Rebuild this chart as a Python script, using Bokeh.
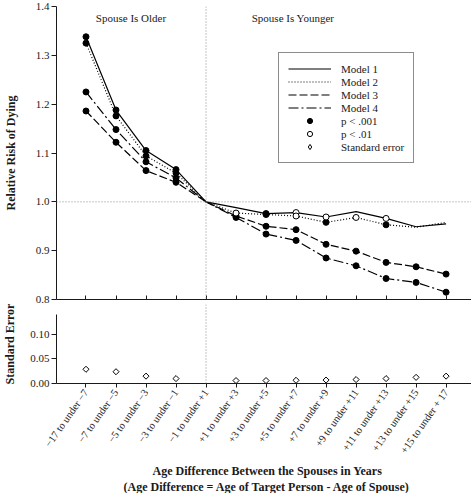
import math
from bokeh.plotting import figure
from bokeh.models import (Range1d, FixedTicker, NumeralTickFormatter, Span,
                          Legend, LegendItem, Title)
from bokeh.layouts import column
from bokeh.core.properties import value
from bokeh.embed import file_html
from bokeh.resources import INLINE

# ---------------- data ----------------
categories = ["\u221217 to under \u22127", "\u22127 to under \u22125", "\u22125 to under \u22123",
              "\u22123 to under \u22121", "\u22121 to under +1", "+1 to under +3",
              "+3 to under +5", "+5 to under +7", "+7 to under +9", "+9 to under +11",
              "+11 to under +13", "+13 to under +15", "+15 to under + 17"]

model1 = [1.338, 1.188, 1.105, 1.066, 1.000, 0.988, 0.976, 0.978, 0.969, 0.980, 0.966, 0.949, 0.955]
model2 = [1.325, 1.176, 1.094, 1.059, 1.000, 0.977, 0.974, 0.971, 0.958, 0.968, 0.953, 0.948, 0.958]
model3 = [1.186, 1.122, 1.064, 1.040, 1.000, 0.971, 0.950, 0.943, 0.913, 0.899, 0.876, 0.867, 0.852]
model4 = [1.225, 1.148, 1.082, 1.049, 1.000, 0.968, 0.934, 0.921, 0.885, 0.869, 0.843, 0.835, 0.815]

# significance: "f" = p < .001 (filled), "o" = p < .01 (open), "" = none
sig1 = ["f", "f", "f", "f", "", "", "f", "o", "o", "", "o", "", ""]
sig2 = ["f", "f", "f", "f", "", "o", "f", "o", "f", "o", "f", "", ""]
sig3 = ["f", "f", "f", "f", "", "f", "f", "f", "f", "f", "f", "f", "f"]
sig4 = ["f", "f", "f", "f", "", "f", "f", "f", "f", "f", "f", "f", "f"]

std_error = [0.029, 0.024, 0.015, 0.010, float("nan"), 0.006, 0.006, 0.0065, 0.007,
             0.008, 0.010, 0.0125, 0.015]

model_names = ["Model 1", "Model 2", "Model 3", "Model 4"]
sig_labels = ["p < .001", "p < .01", "Standard error"]
rr_ticks = [0.8, 0.9, 1.0, 1.1, 1.2, 1.3, 1.4]
se_ticks = [0.0, 0.05, 0.10]
region_labels = ["Spouse Is Older", "Spouse Is Younger"]
region_x = [1.5, 6.9]
region_y = [1.377, 1.377]
reference_category = "\u22121 to under +1"

# ---------------- styles ----------------
FONT = "Liberation Serif"
INK = "#1a1a1a"
dashes = ["solid", "1 2", "8 3", "10 3 2 3"]

xs = list(range(len(categories)))
ref_x = categories.index(reference_category)


def style_axes(p):
    for ax in p.axis:
        ax.axis_line_color = INK
        ax.major_tick_line_color = INK
        ax.minor_tick_line_color = None
        ax.major_label_text_font = FONT
        ax.major_label_text_font_size = "11px"
        ax.major_label_text_color = INK
        ax.axis_label_text_font = FONT
        ax.axis_label_text_font_style = "bold"
        ax.axis_label_text_font_size = "12px"
        ax.axis_label_text_color = INK


# ---------------- top panel ----------------
top = figure(frame_width=419, frame_height=293, min_border_left=51, min_border_right=0,
             min_border_top=6, min_border_bottom=5,
             x_range=Range1d(-0.983, 12.98), y_range=Range1d(0.8, 1.4),
             output_backend="svg", toolbar_location=None)
top.grid.visible = False
top.outline_line_color = None
style_axes(top)

ya = top.yaxis[0]
ya.ticker = FixedTicker(ticks=rr_ticks)
ya.formatter = NumeralTickFormatter(format="0.0")
ya.axis_label = "Relative Risk of Dying"
ya.axis_label_standoff = 15
ya.major_tick_out = 5
ya.major_tick_in = 0
ya.major_label_standoff = 2

xa = top.xaxis[0]
xa.ticker = FixedTicker(ticks=xs)
xa.major_label_overrides = {i: "" for i in xs}
xa.major_label_standoff = 0
xa.major_tick_in = 4
xa.major_tick_out = 0

top.add_layout(Span(location=1.0, dimension="width", line_color="#8c8c8c",
                    line_dash="1 2", line_width=1))
top.add_layout(Span(location=ref_x, dimension="height", line_color="#8c8c8c",
                    line_dash="1 2", line_width=1))

models = [model1, model2, model3, model4]
sigs = [sig1, sig2, sig3, sig4]
line_renderers = []
for vals, dash in zip(models, dashes):
    r = top.line(xs, vals, line_color="black", line_width=1.2, line_dash=dash)
    line_renderers.append(r)

fx, fy, ox, oy = [], [], [], []
for vals, sg in zip(models, sigs):
    for i, (v, s) in enumerate(zip(vals, sg)):
        if s == "f":
            fx.append(i); fy.append(v)
        elif s == "o":
            ox.append(i); oy.append(v)

filled_r = top.scatter(fx, fy, marker="circle", size=6, fill_color="black", line_color="black")
open_r = top.scatter(ox, oy, marker="circle", size=6, fill_color="white", line_color="black",
                     line_width=1)
# standard-error values lie far below this panel's range: used only for the legend swatch
se_swatch = top.scatter(xs, std_error, marker="diamond", size=6,
                        fill_color="white", line_color="black", line_width=1)

top.text(x=region_x, y=region_y, text=region_labels, text_font=value(FONT),
         text_font_size="11px", text_align="center", text_baseline="middle", text_color=INK)

items = [LegendItem(label=n, renderers=[r]) for n, r in zip(model_names, line_renderers)]
items += [LegendItem(label=sig_labels[0], renderers=[filled_r]),
          LegendItem(label=sig_labels[1], renderers=[open_r]),
          LegendItem(label=sig_labels[2], renderers=[se_swatch])]
legend = Legend(items=items, location=(222, 136), orientation="vertical",
                label_text_font=FONT, label_text_font_size="11px", label_text_color=INK,
                label_height=13, glyph_height=13, glyph_width=43, label_standoff=10,
                spacing=0, padding=9, margin=0,
                border_line_color=INK, border_line_width=1,
                background_fill_color="white", background_fill_alpha=1.0)
top.add_layout(legend)

# ---------------- bottom panel ----------------
bot = figure(frame_width=419, frame_height=79, min_border_left=51, min_border_right=0,
             min_border_top=0, min_border_bottom=0,
             x_range=top.x_range, y_range=Range1d(0, 0.161),
             output_backend="svg", toolbar_location=None)
bot.grid.visible = False
bot.outline_line_color = None
style_axes(bot)

yb = bot.yaxis[0]
yb.ticker = FixedTicker(ticks=se_ticks)
yb.formatter = NumeralTickFormatter(format="0.00")
yb.bounds = (0, 0.14)
yb.axis_label = "Standard Error"
yb.axis_label_standoff = 10
yb.major_tick_out = 5
yb.major_tick_in = 0
yb.major_label_standoff = 2

xb = bot.xaxis[0]
xb.ticker = FixedTicker(ticks=xs)
xb.major_label_overrides = {i: c for i, c in enumerate(categories)}
xb.major_label_orientation = math.radians(55)
xb.major_label_text_font_size = "10.5px"
xb.major_tick_out = 4
xb.major_tick_in = 0
xb.major_label_standoff = 3

bot.add_layout(Span(location=ref_x, dimension="height", line_color="#8c8c8c",
                    line_dash="1 2", line_width=1))
bot.scatter(xs, std_error, marker="square", angle=math.pi / 4, size=4.3, fill_color="white",
            line_color="black", line_width=1)

t1 = Title(text="Age Difference Between the Spouses in Years", align="left", offset=96,
           text_font=FONT, text_font_size="12px", text_font_style="bold",
           text_color=INK, standoff=0)
t2 = Title(text="(Age Difference = Age of Target Person - Age of Spouse)", align="left",
           offset=67, text_font=FONT, text_font_size="12px", text_font_style="bold",
           text_color=INK, standoff=0)
bot.add_layout(t1, "below")
bot.add_layout(t2, "below")

layout = column(top, bot, spacing=0)
open("out.html", "w").write(file_html(layout, INLINE))
